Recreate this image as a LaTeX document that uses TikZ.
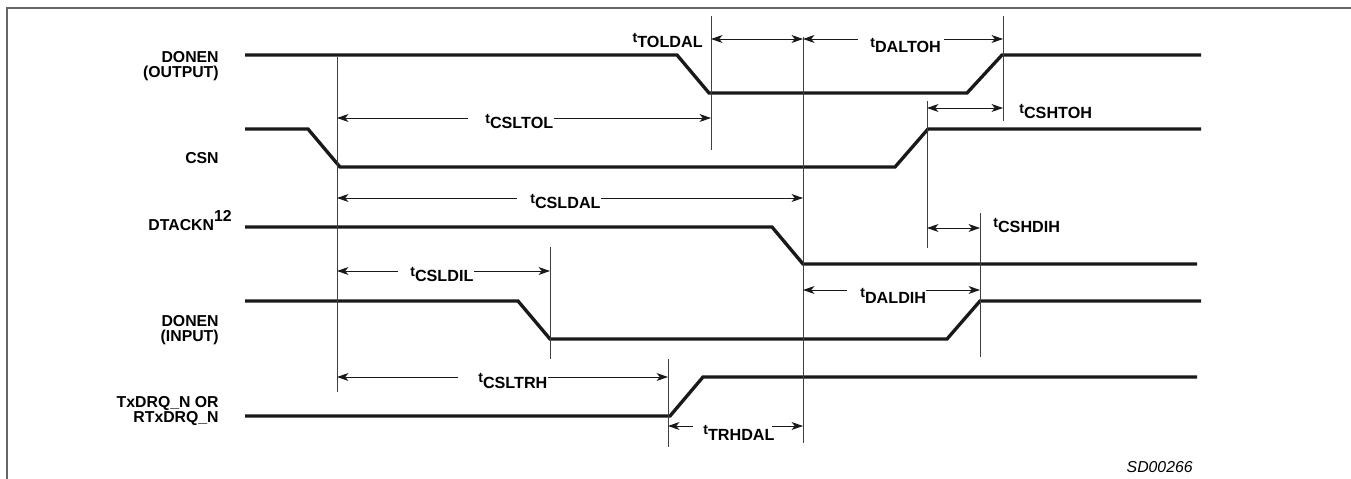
\documentclass[tikz,border=0pt]{standalone}
\usepackage{fontspec}
\setmainfont{Liberation Sans}
\usetikzlibrary{arrows.meta,calc}

%kis t az idozitesek elott
\newcommand{\tlab}[1]{\raisebox{3pt}{\fontsize{8}{8}\selectfont t}#1}

\begin{document}
\begin{tikzpicture}[x=0.02cm, y=-0.02cm,
    >={Stealth[length=6.5pt,width=4.5pt,inset=1.8pt]},
    signal/.style={line width=1.9pt, color=black!90},
    guide/.style={line width=0.55pt, color=black!75},
    dim/.style={line width=0.55pt, color=black!90},
    signame/.style={font=\fontsize{9}{8.2}\selectfont\bfseries, align=right, anchor=east, inner sep=0pt},
    tname/.style={font=\fontsize{9.2}{10}\selectfont\bfseries, anchor=base west, inner sep=0pt}]
    \useasboundingbox (0,0) rectangle (1351,479);
    %keret
    \draw[black!60, line width=0.8pt] (7,479) -- (7,8) -- (1351,8);

    %jelek
    \draw[signal] (245,55) -- (677,55) -- (709,93) -- (967,93) -- (1002,55) -- (1201,55);
    \draw[signal] (245,129) -- (308,129) -- (340,167) -- (895,167) -- (928,129) -- (1201,129);
    \draw[signal] (245,227) -- (772,227) -- (803,264) -- (1197,264);
    \draw[signal] (245,301) -- (518,301) -- (550,339) -- (947,339) -- (980,301) -- (1201,301);
    \draw[signal] (245,416) -- (670,416) -- (703,377) -- (1197,377);

    %jelnevek
    \node[signame] (donenOut) at (219,66) {DONEN\\(OUTPUT)};
    \node[signame] (csn) at (219,158) {CSN};
    \node[signame, anchor=base east] (dtackn) at (232,231) {DTACKN\raisebox{5.4pt}{12}};
    \node[signame] (donenIn) at (219,330) {DONEN\\(INPUT)};
    \node[signame] (txdrq) at (219,411) {TxDRQ\_N OR\\RTxDRQ\_N};

    %segedvonalak
    \draw[guide] (337,57) coordinate (csFall) -- (337,392);
    \draw[guide] (711,16) coordinate (olFall) -- (711,150);
    \draw[guide] (803,37) coordinate (dalFall) -- (803,443);
    \draw[guide] (1003,16) coordinate (ohRise) -- (1003,121);
    \draw[guide] (927,101) coordinate (csRise) -- (927,248);
    \draw[guide] (980,213) coordinate (diRise) -- (980,357);
    \draw[guide] (550,247) coordinate (diFall) -- (550,359);
    \draw[guide] (668,359) coordinate (trRise) -- (668,447);

    %idozitesek
    \node[tname, anchor=base east] (tToldal) at (703,48) {\tlab{TOLDAL}};
    \draw[dim,<->] (olFall |- 0,39) -- (dalFall |- 0,39);

    \node[tname] (tDaltoh) at (870,53) {\tlab{DALTOH}};
    \draw[dim,->] ($(tDaltoh.west |- 0,39)+(-12,0)$) -- (dalFall |- 0,39);
    \draw[dim,->] ($(tDaltoh.east |- 0,39)+(3,0)$) -- (ohRise |- 0,39);

    \node[tname] (tCsltol) at (485,129) {\tlab{CSLTOL}};
    \draw[dim,->] ($(tCsltol.west |- 0,118)+(-17,0)$) -- (csFall |- 0,118);
    \draw[dim,->] (tCsltol.east |- 0,118) -- (olFall |- 0,118);

    \node[tname] (tCshtoh) at (1019,119) {\tlab{CSHTOH}};
    \draw[dim,<->] (csRise |- 0,108) -- (ohRise |- 0,108);

    \node[tname] (tCsldal) at (530,209) {\tlab{CSLDAL}};
    \draw[dim,->] ($(tCsldal.west |- 0,198)+(-13,0)$) -- (csFall |- 0,198);
    \draw[dim,->] (tCsldal.east |- 0,198) -- (dalFall |- 0,198);

    \node[tname] (tCshdih) at (993,233) {\tlab{CSHDIH}};
    \draw[dim,<->] (csRise |- 0,228) -- (diRise |- 0,228);

    \node[tname] (tCsldil) at (410,282) {\tlab{CSLDIL}};
    \draw[dim,->] ($(tCsldil.west |- 0,271)+(-12,0)$) -- (csFall |- 0,271);
    \draw[dim,->] (tCsldil.east |- 0,271) -- (diFall |- 0,271);

    \node[tname] (tDaldih) at (860,303) {\tlab{DALDIH}};
    \draw[dim,->] ($(tDaldih.west |- 0,290)+(-13,0)$) -- (dalFall |- 0,290);
    \draw[dim,->] (tDaldih.east |- 0,290) -- (diRise |- 0,290);

    \node[tname] (tCsltrh) at (478,388) {\tlab{CSLTRH}};
    \draw[dim,->] ($(tCsltrh.west |- 0,377)+(-20,0)$) -- (csFall |- 0,377);
    \draw[dim,->] (tCsltrh.east |- 0,377) -- (trRise |- 0,377);

    \node[tname] (tTrhdal) at (703,440) {\tlab{TRHDAL}};
    \draw[dim,->] ($(tTrhdal.west |- 0,426)+(-10,0)$) -- (trRise |- 0,426);
    \draw[dim,->] ($(tTrhdal.east |- 0,426)+(-3,0)$) -- (dalFall |- 0,426);

    %abra szama
    \node[font=\fontsize{9}{10}\selectfont\itshape, anchor=base east, inner sep=0pt] (figNo) at (1193,472) {SD00266};
\end{tikzpicture}
\end{document}
